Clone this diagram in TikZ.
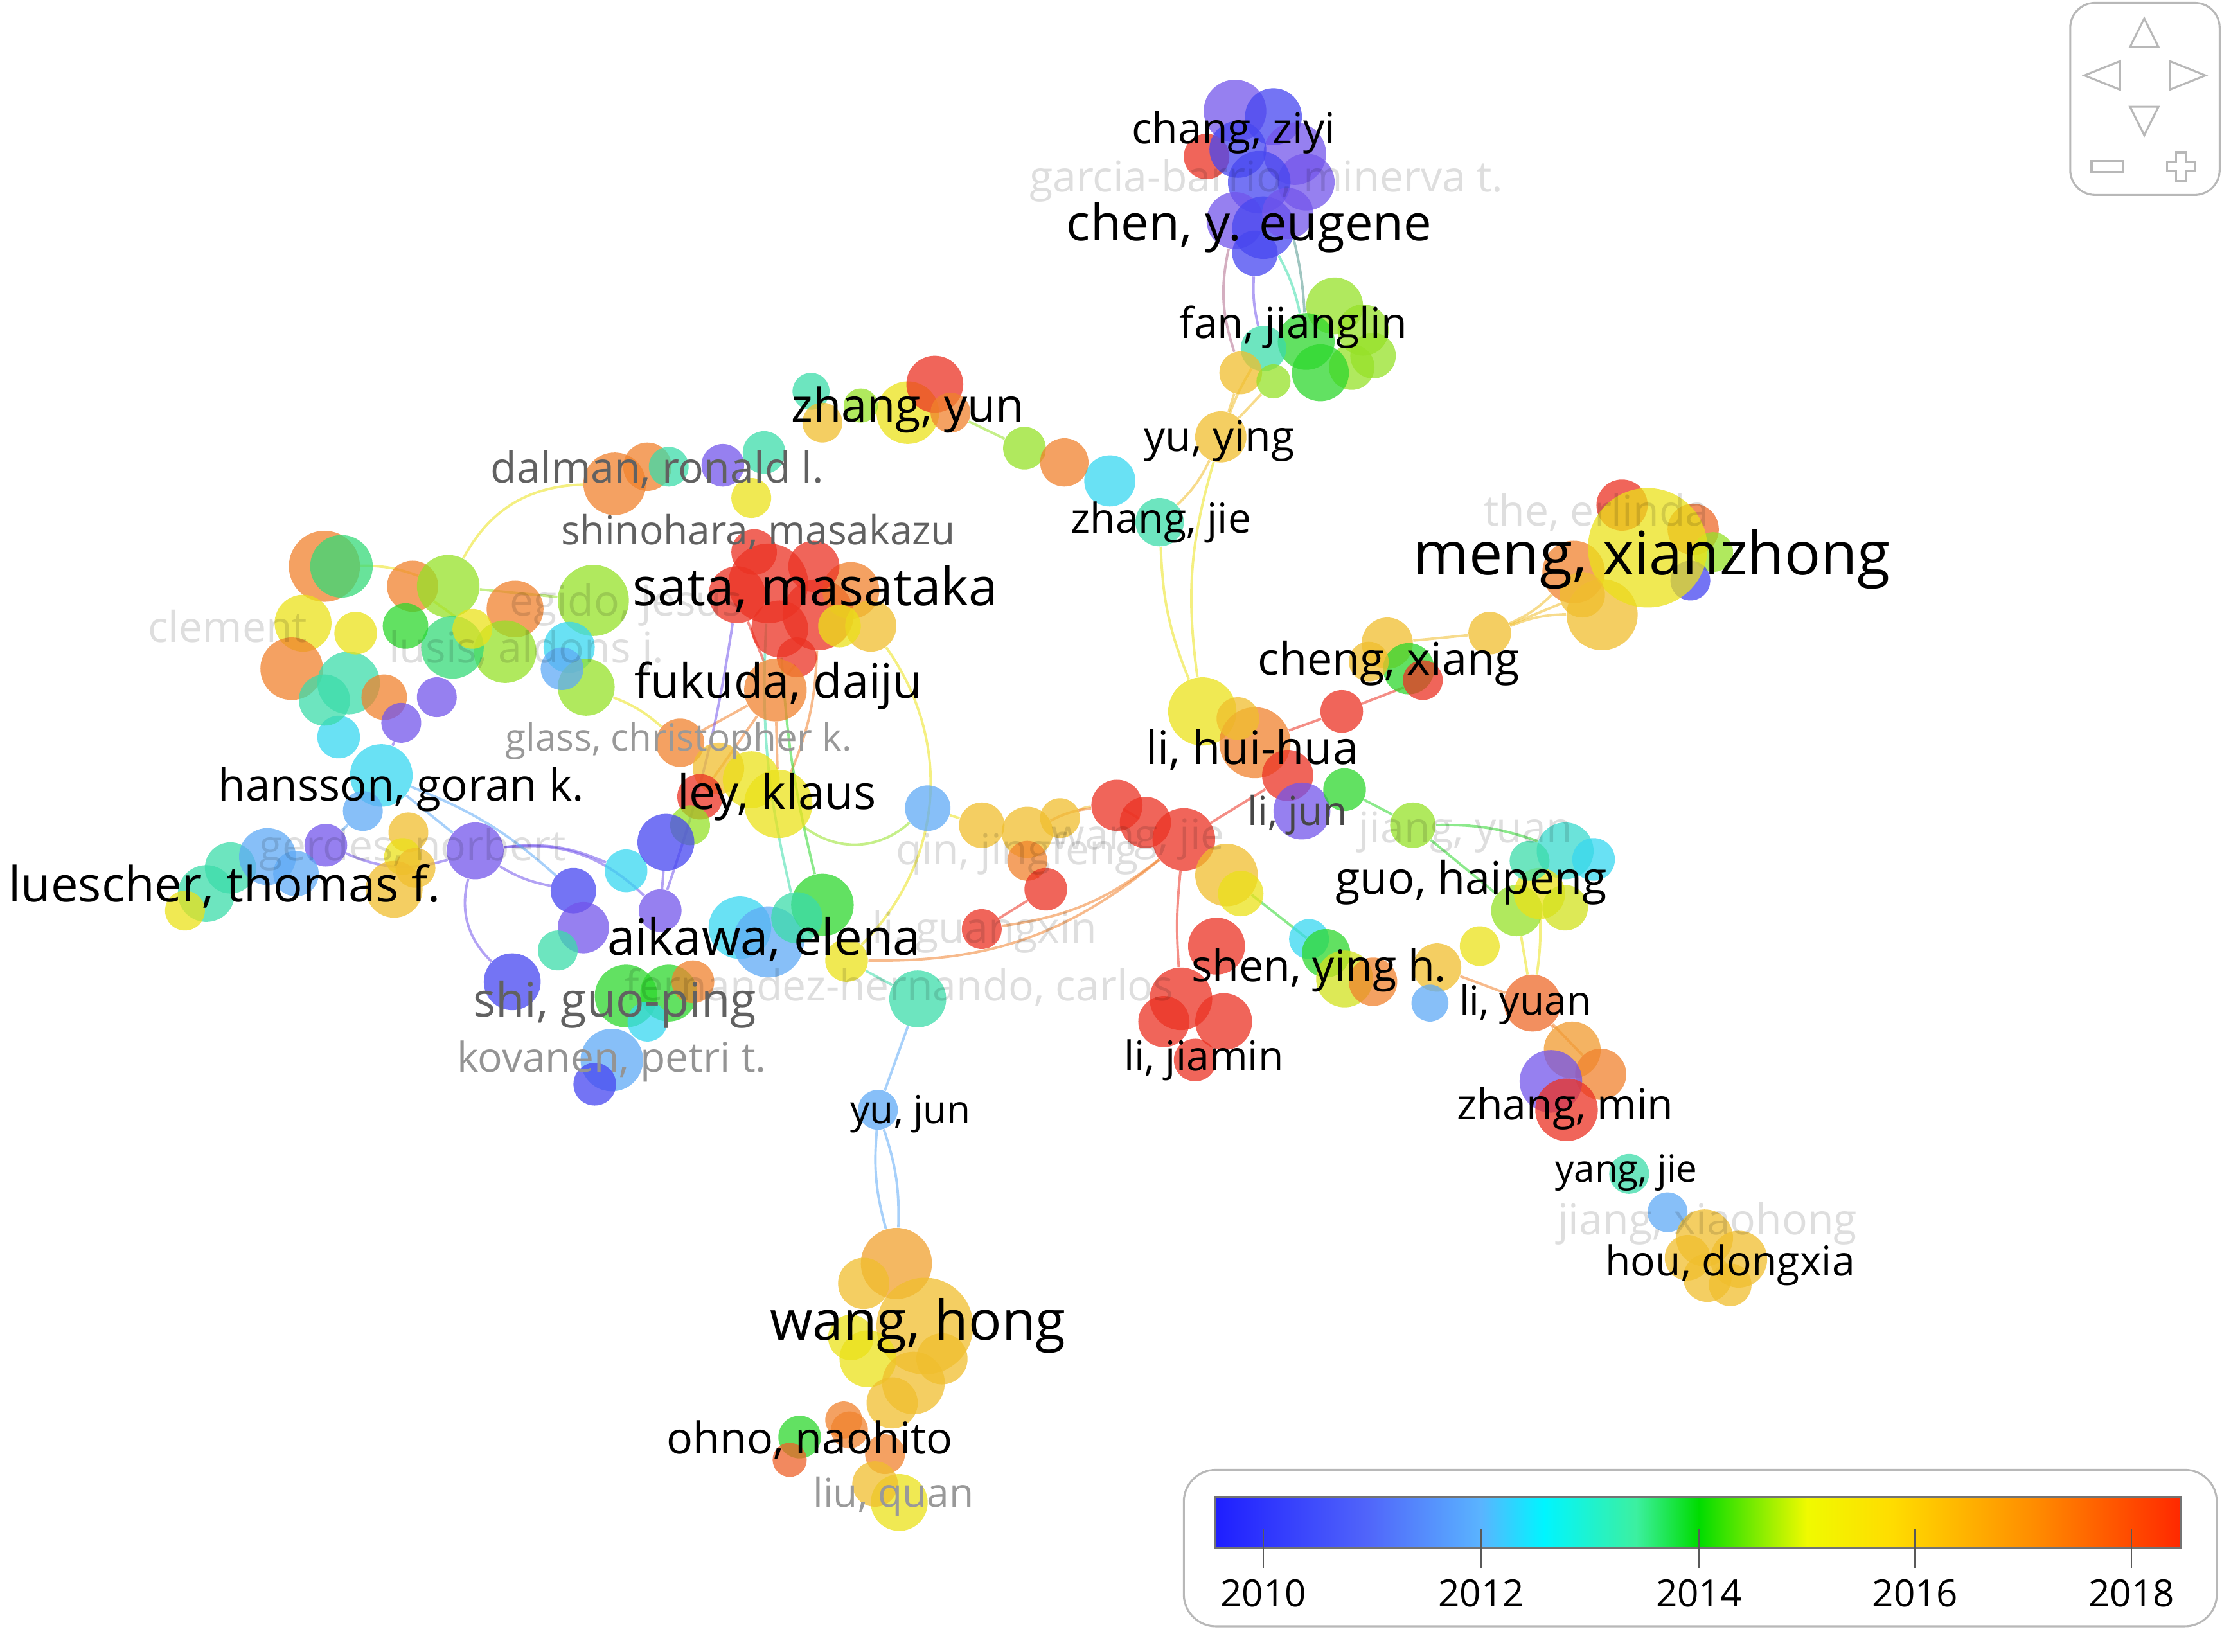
\documentclass[tikz,border=0pt]{standalone}
\usepackage{fontspec}
\setmainfont{Open Sans}
\usepackage{xcolor}
\usepackage{tikz}
\usetikzlibrary{backgrounds}
\definecolor{cPurple}{RGB}{115,85,235}
\definecolor{cBlue}{RGB}{70,70,240}
\definecolor{cSky}{RGB}{95,170,245}
\definecolor{cCyan}{RGB}{55,215,240}
\definecolor{cTeal}{RGB}{60,220,170}
\definecolor{cGreen}{RGB}{45,215,45}
\definecolor{cLime}{RGB}{150,225,40}
\definecolor{cYellow}{RGB}{235,225,25}
\definecolor{cGold}{RGB}{240,190,45}
\definecolor{cOrange}{RGB}{240,130,45}
\definecolor{cRed}{RGB}{235,50,35}
\tikzset{
  bub/.style 2 args={circle, inner sep=0pt, fill=#1, fill opacity=0.75, minimum size=#2*0.04cm},
  lk/.style={draw=#1, draw opacity=0.55, line width=1pt},
  au/.style={font=\fontsize{#1}{#1}\selectfont, inner sep=0pt, text=black},
  gr/.style={font=\fontsize{#1}{#1}\selectfont, inner sep=0pt, text=black!62},
  fa/.style={font=\fontsize{#1}{#1}\selectfont, inner sep=0pt, text=black, text opacity=0.13},
  ui/.style={draw=black!28, line width=0.8pt}
}
\begin{document}
\begin{tikzpicture}[x=0.02cm, y=-0.02cm]
\useasboundingbox (0,0) rectangle (1568,1161);

% chang / chen cluster
\node[bub={cRed}{16}] (cz0) at (848,110) {};
\node[bub={cPurple}{22}] (cz1) at (868,78) {};
\node[bub={cBlue}{20}] (cz2) at (895,82) {};
\node[bub={cPurple}{22}] (cz3) at (910,108) {};
\node[bub={cBlue}{20}] (cz4) at (870,105) {};
\node[bub={cPurple}{20}] (cz5) at (918,128) {};
\node[bub={cBlue}{22}] (cz6) at (885,128) {};
\node[bub={cPurple}{20}] (ce1) at (868,155) {};
\node[bub={cBlue}{22}] (ce2) at (888,160) {};
\node[bub={cPurple}{18}] (ce3) at (905,150) {};
\node[bub={cBlue}{16}] (ce4) at (882,178) {};

% fan / yu ying / zhang jie
\node[bub={cLime}{20}] (fj1) at (938,215) {};
\node[bub={cLime}{18}] (fj2) at (958,232) {};
\node[bub={cLime}{16}] (fj3) at (950,258) {};
\node[bub={cLime}{16}] (fj9) at (965,250) {};
\node[bub={cGreen}{20}] (fj4) at (918,240) {};
\node[bub={cGreen}{20}] (fj5) at (928,262) {};
\node[bub={cTeal}{16}] (fj6) at (888,245) {};
\node[bub={cGold}{15}] (fj7) at (872,262) {};
\node[bub={cLime}{12}] (fj8) at (895,268) {};
\node[bub={cGold}{18}] (yy) at (858,307) {};
\node[bub={cCyan}{18}] (zj1) at (780,338) {};
\node[bub={cTeal}{17}] (zj2) at (815,367) {};
\node[bub={cLime}{15}] (zb1) at (720,315) {};
\node[bub={cOrange}{17}] (zb2) at (748,325) {};

% zhang yun / dalman
\node[bub={cTeal}{13}] (zy1) at (570,275) {};
\node[bub={cGold}{14}] (zy2) at (578,297) {};
\node[bub={cYellow}{22}] (zy3) at (638,290) {};
\node[bub={cRed}{20}] (zy4) at (657,270) {};
\node[bub={cOrange}{14}] (zy5) at (668,290) {};
\node[bub={cLime}{12}] (zy6) at (605,285) {};
\node[bub={cOrange}{22}] (dr1) at (432,340) {};
\node[bub={cOrange}{17}] (dr2) at (455,328) {};
\node[bub={cTeal}{14}] (dr3) at (470,328) {};
\node[bub={cPurple}{15}] (dr4) at (508,327) {};
\node[bub={cTeal}{15}] (dr5) at (537,318) {};
\node[bub={cYellow}{14}] (dr6) at (528,350) {};

% sata / fukuda / ley
\node[bub={cRed}{28}] (sm1) at (540,410) {};
\node[bub={cRed}{25}] (sm2) at (575,432) {};
\node[bub={cRed}{20}] (sm3) at (548,442) {};
\node[bub={cRed}{20}] (sm4) at (518,418) {};
\node[bub={cOrange}{20}] (sm5) at (598,415) {};
\node[bub={cGold}{18}] (sm6) at (612,440) {};
\node[bub={cRed}{16}] (sm7) at (530,388) {};
\node[bub={cRed}{18}] (sm8) at (572,398) {};
\node[bub={cRed}{14}] (sm9) at (560,462) {};
\node[bub={cYellow}{15}] (sm10) at (590,440) {};
\node[bub={cOrange}{22}] (fd) at (545,485) {};
\node[bub={cOrange}{17}] (lk1) at (478,522) {};
\node[bub={cGold}{18}] (lk2) at (505,540) {};
\node[bub={cYellow}{20}] (lk3) at (528,548) {};
\node[bub={cYellow}{24}] (lk4) at (547,565) {};
\node[bub={cRed}{16}] (lk5) at (492,560) {};
\node[bub={cLime}{14}] (lk6) at (485,580) {};

% clement / egido cluster
\node[bub={cOrange}{25}] (cl1) at (228,398) {};
\node[bub={cTeal!60!cGreen}{22}] (cl2) at (240,398) {};
\node[bub={cOrange}{18}] (cl3) at (290,412) {};
\node[bub={cLime}{22}] (cl4) at (315,412) {};
\node[bub={cOrange}{20}] (cl5) at (362,428) {};
\node[bub={cLime}{22}] (cl6) at (355,458) {};
\node[bub={cTeal!60!cGreen}{22}] (cl7) at (318,455) {};
\node[bub={cGreen}{16}] (cl8) at (285,440) {};
\node[bub={cYellow}{20}] (cl9) at (213,438) {};
\node[bub={cOrange}{22}] (cl10) at (205,470) {};
\node[bub={cTeal}{22}] (cl11) at (245,480) {};
\node[bub={cOrange}{16}] (cl12) at (270,490) {};
\node[bub={cPurple}{14}] (cl13) at (307,490) {};
\node[bub={cPurple}{14}] (cl14) at (282,508) {};
\node[bub={cCyan}{15}] (cl15) at (238,518) {};
\node[bub={cTeal}{18}] (cl16) at (228,492) {};
\node[bub={cYellow}{15}] (cl17) at (250,445) {};
\node[bub={cYellow}{14}] (cl18) at (332,442) {};
\node[bub={cLime}{25}] (eg1) at (417,422) {};
\node[bub={cCyan}{18}] (eg2) at (400,455) {};
\node[bub={cLime}{20}] (eg3) at (412,483) {};
\node[bub={cSky}{15}] (eg4) at (395,470) {};

% hansson / luescher
\node[bub={cCyan}{22}] (hg1) at (268,545) {};
\node[bub={cSky}{14}] (hg2) at (255,570) {};
\node[bub={cGold}{14}] (hg3) at (287,585) {};
\node[bub={cYellow}{13}] (hg4) at (283,602) {};
\node[bub={cPurple}{15}] (hg5) at (229,594) {};
\node[bub={cPurple}{20}] (hg6) at (334,598) {};
\node[bub={cTeal}{20}] (lt1) at (145,628) {};
\node[bub={cTeal}{18}] (lt2) at (162,610) {};
\node[bub={cSky}{20}] (lt3) at (188,602) {};
\node[bub={cSky}{16}] (lt4) at (208,614) {};
\node[bub={cYellow}{14}] (lt5) at (130,640) {};
\node[bub={cGold}{20}] (lt6) at (277,625) {};
\node[bub={cGold}{14}] (lt7) at (292,610) {};

% aikawa / shi / kovanen
\node[bub={cBlue}{16}] (ae1) at (403,626) {};
\node[bub={cCyan}{15}] (ae2) at (440,612) {};
\node[bub={cBlue}{20}] (ae3) at (468,592) {};
\node[bub={cPurple}{15}] (ae4) at (464,640) {};
\node[bub={cPurple}{18}] (ae5) at (410,652) {};
\node[bub={cTeal}{14}] (ae6) at (392,668) {};
\node[bub={cBlue}{20}] (sg1) at (360,690) {};
\node[bub={cGreen}{22}] (sg2) at (440,700) {};
\node[bub={cGreen}{20}] (sg3) at (470,698) {};
\node[bub={cOrange}{15}] (sg4) at (487,690) {};
\node[bub={cCyan}{22}] (ae7) at (520,652) {};
\node[bub={cSky}{25}] (ae8) at (540,662) {};
\node[bub={cGreen}{22}] (ae9) at (578,636) {};
\node[bub={cTeal}{18}] (ae10) at (560,645) {};
\node[bub={cYellow}{15}] (ae11) at (595,675) {};
\node[bub={cSky}{22}] (kp1) at (430,745) {};
\node[bub={cBlue}{15}] (kp2) at (418,762) {};
\node[bub={cCyan}{14}] (kp3) at (455,718) {};

% qin / li guangxin / yu jun
\node[bub={cSky}{16}] (qj0) at (652,568) {};
\node[bub={cGold}{16}] (qj1) at (690,580) {};
\node[bub={cGold}{18}] (qj2) at (722,585) {};
\node[bub={cGold}{14}] (qj3) at (745,575) {};
\node[bub={cOrange}{14}] (qj5) at (722,605) {};
\node[bub={cRed}{15}] (qj4) at (735,625) {};
\node[bub={cRed}{14}] (lg1) at (690,653) {};
\node[bub={cTeal}{20}] (fh1) at (645,702) {};
\node[bub={cSky}{14}] (yj) at (617,780) {};

% wang jie / li hui-hua / li jun
\node[bub={cRed}{18}] (wj1) at (785,566) {};
\node[bub={cRed}{18}] (wj2) at (805,578) {};
\node[bub={cRed}{22}] (wj3) at (832,590) {};
\node[bub={cYellow}{24}] (lh1) at (845,500) {};
\node[bub={cOrange}{25}] (lh2) at (882,522) {};
\node[bub={cRed}{18}] (lh3) at (905,545) {};
\node[bub={cPurple}{20}] (lh4) at (915,570) {};
\node[bub={cGreen}{15}] (lh5) at (945,555) {};
\node[bub={cRed}{15}] (lh6) at (943,500) {};
\node[bub={cGold}{22}] (lh7) at (862,615) {};
\node[bub={cYellow}{16}] (lh8) at (872,628) {};
\node[bub={cGold}{15}] (lh10) at (870,505) {};

% guo haipeng
\node[bub={cLime}{16}] (gh1) at (993,580) {};
\node[bub={cLime}{18}] (gh2) at (1066,640) {};
\node[bub={cTeal!50!cCyan}{20}] (gh3) at (1100,598) {};
\node[bub={cCyan}{15}] (gh4) at (1120,604) {};
\node[bub={cYellow}{18}] (gh5) at (1082,628) {};
\node[bub={cYellow!70!cLime}{16}] (gh6) at (1100,638) {};
\node[bub={cYellow}{14}] (gh7) at (1040,665) {};
\node[bub={cTeal}{14}] (gh8) at (1075,605) {};

% shen / li jiamin / li yuan / zhang min
\node[bub={cRed}{20}] (sy1) at (855,665) {};
\node[bub={cCyan}{14}] (sy2) at (920,660) {};
\node[bub={cGreen}{17}] (sy3) at (932,670) {};
\node[bub={cYellow!70!cLime}{20}] (sy4) at (945,688) {};
\node[bub={cOrange}{17}] (sy5) at (965,690) {};
\node[bub={cGold}{17}] (sy6) at (1010,680) {};
\node[bub={cSky}{13}] (sy7) at (1005,705) {};
\node[bub={cRed}{22}] (ljm1) at (830,702) {};
\node[bub={cRed}{20}] (ljm2) at (860,718) {};
\node[bub={cRed}{15}] (ljm3) at (840,745) {};
\node[bub={cRed}{18}] (ljm4) at (818,718) {};
\node[bub={cOrange!70!cRed}{20}] (ly) at (1077,705) {};
\node[bub={cOrange!60!cGold}{20}] (zm1) at (1105,738) {};
\node[bub={cOrange}{18}] (zm2) at (1125,755) {};
\node[bub={cPurple}{22}] (zm3) at (1090,760) {};
\node[bub={cRed}{22}] (zm4) at (1101,780) {};
\node[bub={cTeal}{14}] (yg1) at (1145,825) {};
\node[bub={cSky}{14}] (yg2) at (1172,852) {};
\node[bub={cGold}{20}] (hd1) at (1198,870) {};
\node[bub={cGold}{20}] (hd2) at (1222,885) {};
\node[bub={cGold}{17}] (hd3) at (1200,898) {};
\node[bub={cGold}{16}] (hd4) at (1186,884) {};
\node[bub={cGold}{15}] (hd5) at (1216,903) {};

% meng / cheng
\node[bub={cRed}{18}] (mx1) at (1140,355) {};
\node[bub={cOrange!70!cRed}{18}] (mx2) at (1190,372) {};
\node[bub={cLime}{14}] (mx3) at (1204,388) {};
\node[bub={cBlue}{14}] (mx4) at (1188,408) {};
\node[bub={cOrange}{22}] (mx5) at (1106,402) {};
\node[bub={cGold}{25}] (mx6) at (1126,432) {};
\node[bub={cYellow}{42}] (mx7) at (1158,385) {};
\node[bub={cGold}{16}] (mx8) at (1112,418) {};
\node[bub={cGold}{15}] (mx9) at (1047,445) {};
\node[bub={cGold}{18}] (cx1) at (975,452) {};
\node[bub={cGreen}{18}] (cx2) at (990,470) {};
\node[bub={cGold}{14}] (cx3) at (962,465) {};
\node[bub={cRed}{14}] (cx4) at (1000,478) {};

% wang hong / ohno / liu
\node[bub={cOrange!50!cGold}{25}] (wh1) at (630,888) {};
\node[bub={cGold}{18}] (wh2) at (607,902) {};
\node[bub={cGold}{34}] (wh3) at (650,932) {};
\node[bub={cYellow}{20}] (wh4) at (610,955) {};
\node[bub={cGold}{22}] (wh5) at (642,972) {};
\node[bub={cGold}{18}] (wh6) at (662,955) {};
\node[bub={cYellow}{16}] (wh7) at (598,940) {};
\node[bub={cGold}{18}] (wh8) at (627,986) {};
\node[bub={cOrange}{13}] (wh9) at (593,998) {};
\node[bub={cGreen}{15}] (on1) at (562,1010) {};
\node[bub={cOrange!60!cRed}{12}] (on2) at (555,1026) {};
\node[bub={cOrange}{13}] (on3) at (597,1005) {};
\node[bub={cOrange}{14}] (on4) at (622,1022) {};
\node[bub={cYellow}{20}] (lq1) at (632,1056) {};
\node[bub={cGold}{16}] (lq2) at (615,1043) {};

% links
\begin{scope}[on background layer]
\draw[lk=cPurple] (ce4) to[bend right=8] (fj6);
\draw[lk=cTeal] (ce2) to[bend left=8] (fj4);
\draw[lk=cPurple!50!cGreen] (ce3) to[bend left=5] (fj4);
\draw[lk=cPurple!50!cOrange] (ce1) to[bend right=15] (fj7);
\draw[lk=cGold] (fj7) to (yy);
\draw[lk=cGold] (fj6) to[bend right=5] (yy);
\draw[lk=cGold] (fj8) to (yy);
\draw[lk=cGold] (yy) to[bend left=10] (zj2);
\draw[lk=cYellow] (zj2) to[bend right=10] (lh1);
\draw[lk=cYellow] (yy) to[bend right=12] (lh1);
\draw[lk=cCyan] (zj1) to (zb2);
\draw[lk=cOrange] (zb2) to (zb1);
\draw[lk=cLime] (zb1) to (zy5);
\draw[lk=cYellow] (dr1) to[bend right=30] (cl4);
\draw[lk=cRed] (sm3) to (fd);
\draw[lk=cOrange] (sm9) to[bend left=5] (fd);
\draw[lk=cRed] (sm4) to (fd);
\draw[lk=cOrange] (fd) to (lk1);
\draw[lk=cOrange] (fd) to (lk4);
\draw[lk=cOrange] (fd) to (lk5);
\draw[lk=cOrange] (sm2) to[bend left=10] (lk4);
\draw[lk=cGreen] (sm3) to[bend right=5] (ae9);
\draw[lk=cTeal] (ae10) to[bend left=8] (sm1);
\draw[lk=cPurple] (ae4) to[bend right=5] (sm4);
\draw[lk=cYellow] (eg3) to[bend left=10] (lk1);
\draw[lk=cYellow] (sm6) to[bend left=40] (ae11);
\draw[lk=cLime] (lk4) to[bend right=40] (qj0);
\draw[lk=cYellow] (qj0) to (qj1);
\draw[lk=cGold] (qj3) to[bend left=10] (wj1);
\draw[lk=cOrange] (qj2) to[bend left=10] (wj1);
\draw[lk=cRed] (wj1) to (wj2);
\draw[lk=cRed] (wj3) to (lh3);
\draw[lk=cOrange] (lg1) to[bend right=15] (wj3);
\draw[lk=cOrange] (ae11) to[bend right=20] (wj3);
\draw[lk=cRed] (lg1) to (qj4);
\draw[lk=cRed] (qj4) to (qj5);
\draw[lk=cTeal] (ae11) to (fh1);
\draw[lk=cSky] (fh1) to (yj);
\draw[lk=cSky] (yj) to[bend right=10] (wh1);
\draw[lk=cSky] (yj) to[bend left=10] (wh1);
\draw[lk=cRed] (lh2) to (lh6);
\draw[lk=cRed] (lh6) to (cx4);
\draw[lk=cGold] (cx1) to (mx9);
\draw[lk=cGold] (mx9) to[bend left=10] (mx6);
\draw[lk=cGold] (mx9) to[bend right=10] (mx5);
\draw[lk=cGold] (mx9) to (mx8);
\draw[lk=cGreen] (lh5) to (gh1);
\draw[lk=cGreen] (gh1) to (gh2);
\draw[lk=cGreen] (gh1) to[bend left=10] (gh3);
\draw[lk=cGreen] (lh7) to (sy3);
\draw[lk=cRed] (ljm1) to[bend left=5] (wj3);
\draw[lk=cOrange] (sy6) to (ly);
\draw[lk=cYellow] (gh2) to (ly);
\draw[lk=cYellow] (gh5) to[bend left=5] (ly);
\draw[lk=cOrange] (ly) to (zm1);
\draw[lk=cOrange] (ly) to (zm2);
\draw[lk=cPurple] (hg6) to[bend left=15] (ae2);
\draw[lk=cPurple] (hg6) to[bend left=25] (ae4);
\draw[lk=cPurple] (hg6) to[bend right=10] (ae1);
\draw[lk=cPurple] (hg5) to[bend right=20] (hg6);
\draw[lk=cSky] (hg1) to (hg6);
\draw[lk=cSky] (hg2) to (hg5);
\draw[lk=cSky] (lt4) to (hg5);
\draw[lk=cSky] (hg1) to[bend left=10] (ae1);
\draw[lk=cPurple] (hg6) to[bend right=30] (sg1);
\draw[lk=cPurple] (ae3) to (ae4);
\draw[lk=cPurple] (cl14) to (hg1);
\draw[lk=cYellow] (cl3) to (cl18);
\draw[lk=cLime] (cl4) to (eg1);
\draw[lk=cYellow] (cl1) to[bend left=10] (cl4);
\end{scope}

% faint labels
\node[fa=17pt] (garcia) at (890,127) {garcia-barrio, minerva t.};
\node[fa=17pt] (the) at (1122,360) {the, erlinda};
\node[fa=17pt] (clement) at (160,440) {clement};
\node[fa=17pt] (egido) at (440,425) {egido, jesus};
\node[fa=17pt] (lusis) at (370,458) {lusis, aldons j.};
\node[fa=17pt] (gerdes) at (290,597) {gerdes, norbert};
\node[fa=17pt] (qin) at (715,600) {qin, jingfeng};
\node[fa=17pt] (wangjie) at (800,590) {wang, jie};
\node[fa=17pt] (jiang) at (1030,585) {jiang, yuan};
\node[fa=17pt] (liguang) at (692,655) {li, guangxin};
\node[fa=17pt] (fernandez) at (632,694) {fernandez-hernando, carlos};
\node[fa=17pt] (jiangx) at (1200,860) {jiang, xiaohong};

% gray labels
\node[gr=17pt] (dalman) at (462,330) {dalman, ronald l.};
\node[gr=16pt] (shinohara) at (533,374) {shinohara, masakazu};
\node[gr=15pt, text=black!40] (glass) at (477,521) {glass, christopher k.};
\node[gr=19pt] (shi) at (432,706) {shi, guo-ping};
\node[gr=16.5pt, text=black!42] (kovanen) at (430,746) {kovanen, petri t.};
\node[gr=16pt, text=black!40] (liu) at (628,1052) {liu, quan};
\node[gr=16pt, text=black!72] (lijun) at (912,573) {li, jun};

% author labels
\node[au=17pt] (chang) at (867,93) {chang, ziyi};
\node[au=20pt] (chen) at (878,160) {chen, y. eugene};
\node[au=17pt] (fan) at (909,230) {fan, jianglin};
\node[au=18.5pt] (zhangyun) at (638,288) {zhang, yun};
\node[au=17pt] (yuying) at (857,310) {yu, ying};
\node[au=16.5pt] (zhangjie) at (816,367) {zhang, jie};
\node[au=24pt] (meng) at (1161,393) {meng, xianzhong};
\node[au=21pt] (sata) at (573,414) {sata, masataka};
\node[au=19pt] (fukuda) at (547,482) {fukuda, daiju};
\node[au=18pt] (cheng) at (976,466) {cheng, xiang};
\node[au=18.5pt] (lihui) at (880,527) {li, hui-hua};
\node[au=17.8pt] (hansson) at (282,555) {hansson, goran k.};
\node[au=19pt] (ley) at (546,560) {ley, klaus};
\node[au=19.5pt] (luescher) at (158,623) {luescher, thomas f.};
\node[au=18pt] (guo) at (1034,620) {guo, haipeng};
\node[au=20pt] (aikawa) at (537,660) {aikawa, elena};
\node[au=17.5pt] (shen) at (927,682) {shen, ying h.};
\node[au=16pt] (liyuan) at (1072,706) {li, yuan};
\node[au=16.5pt] (lijiamin) at (846,745) {li, jiamin};
\node[au=17pt] (zhangmin) at (1100,779) {zhang, min};
\node[au=15.5pt] (yujun) at (640,783) {yu, jun};
\node[au=15pt] (yang) at (1143,824) {yang, jie};
\node[au=16.5pt] (hou) at (1216,889) {hou, dongxia};
\node[au=22pt] (wanghong) at (645,932) {wang, hong};
\node[au=17.5pt] (ohno) at (569,1012) {ohno, naohito};

% navigation widget
\draw[ui, rounded corners=0.35cm] (1455,2) rectangle (1560,137);
\draw[ui] (1497,33) -- (1507,13) -- (1517,33) -- cycle;
\draw[ui] (1490,43) -- (1465,53) -- (1490,63) -- cycle;
\draw[ui] (1525,43) -- (1550,53) -- (1525,63) -- cycle;
\draw[ui] (1497,75) -- (1507,95) -- (1517,75) -- cycle;
\draw[ui] (1470,113) rectangle (1492,121);
\draw[ui] (1529.5,107) -- (1536.5,107) -- (1536.5,113.5) -- (1543,113.5) -- (1543,120.5) -- (1536.5,120.5) -- (1536.5,127) -- (1529.5,127) -- (1529.5,120.5) -- (1523,120.5) -- (1523,113.5) -- (1529.5,113.5) -- cycle;

% legend
\draw[ui, rounded corners=0.45cm] (832,1033) rectangle (1558,1143);
\shade[left color={rgb,255:red,30;green,30;blue,255}, right color={rgb,255:red,80;green,100;blue,250}] (854,1052) rectangle (960,1088);
\shade[left color={rgb,255:red,80;green,100;blue,250}, right color={rgb,255:red,90;green,180;blue,255}] (960,1052) rectangle (1041,1088);
\shade[left color={rgb,255:red,90;green,180;blue,255}, right color={rgb,255:red,0;green,245;blue,255}] (1041,1052) rectangle (1085,1088);
\shade[left color={rgb,255:red,0;green,245;blue,255}, right color={rgb,255:red,60;green,240;blue,160}] (1085,1052) rectangle (1150,1088);
\shade[left color={rgb,255:red,60;green,240;blue,160}, right color={rgb,255:red,0;green,220;blue,0}] (1150,1052) rectangle (1194,1088);
\shade[left color={rgb,255:red,0;green,220;blue,0}, right color={rgb,255:red,240;green,250;blue,0}] (1194,1052) rectangle (1270,1088);
\shade[left color={rgb,255:red,240;green,250;blue,0}, right color={rgb,255:red,255;green,220;blue,0}] (1270,1052) rectangle (1330,1088);
\shade[left color={rgb,255:red,255;green,220;blue,0}, right color={rgb,255:red,255;green,140;blue,0}] (1330,1052) rectangle (1430,1088);
\shade[left color={rgb,255:red,255;green,140;blue,0}, right color={rgb,255:red,255;green,40;blue,0}] (1430,1052) rectangle (1533,1088);
\draw[black!55, line width=1pt] (854,1052) rectangle (1533,1088);
\foreach \yr/\xx in {2010/888, 2012/1041, 2014/1194, 2016/1346, 2018/1498} {
  \draw[black!65, line width=0.6pt] (\xx,1075) -- (\xx,1102);
  \node[au=15pt] (yr\yr) at (\xx,1120) {\yr};
}
\end{tikzpicture}
\end{document}
